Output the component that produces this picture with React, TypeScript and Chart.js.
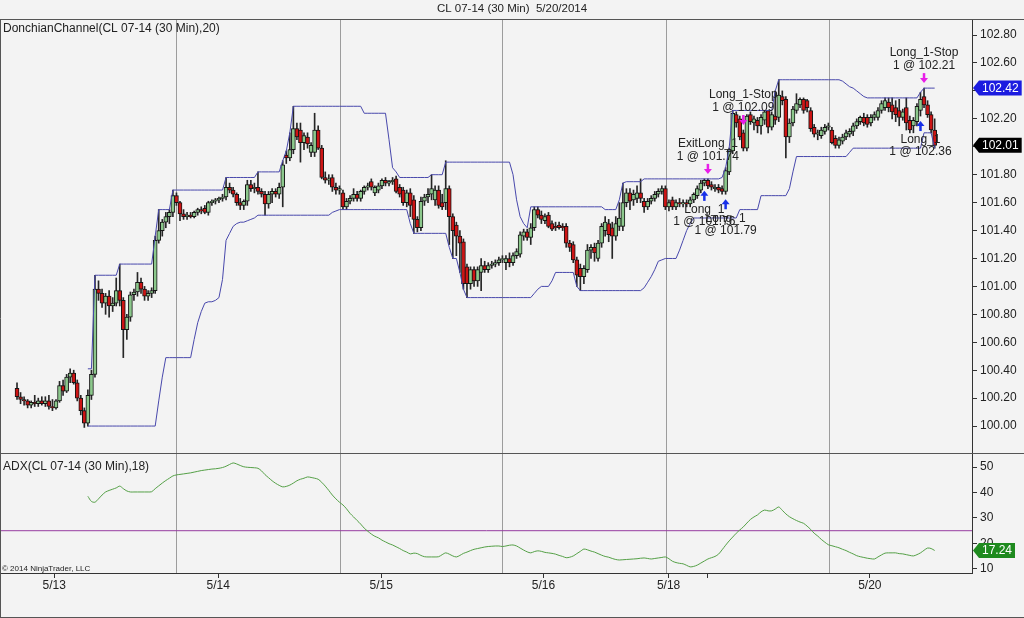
import React, { useEffect, useRef } from "react";
import { Chart, registerables } from "chart.js";

Chart.register(...registerables);

const FONT = '"Liberation Sans", Arial, Helvetica, sans-serif';

const chartTitle = "CL 07-14 (30 Min)  5/20/2014";
const priceTitle = "DonchianChannel(CL 07-14 (30 Min),20)";
const adxTitle = "ADX(CL 07-14 (30 Min),18)";
const copyright = "\u00A9 2014 NinjaTrader, LLC";

// ---- 30-minute bars (index 0..259) ----
const opens = [
  100.27, 100.21, 100.19, 100.18, 100.15, 100.17, 100.16, 100.18, 100.16, 100.18,
  100.14, 100.13, 100.18, 100.29, 100.25, 100.35, 100.38, 100.31, 100.2, 100.11,
  100.02, 100.22, 100.37, 100.98, 100.95, 100.88, 100.93, 100.86, 100.88, 100.97,
  100.9, 100.69, 100.78, 100.94, 100.96, 101.03, 100.98, 100.93, 100.95, 100.97,
  101.33, 101.4, 101.46, 101.5, 101.53, 101.65, 101.6, 101.52, 101.5, 101.51,
  101.5, 101.53, 101.55, 101.56, 101.53, 101.6, 101.61, 101.62, 101.63, 101.64,
  101.71, 101.69, 101.66, 101.6, 101.58, 101.61, 101.73, 101.7, 101.71, 101.68,
  101.66, 101.59, 101.66, 101.68, 101.66, 101.71, 101.94, 101.92, 101.98, 102.13,
  102.12, 102.03, 102.07, 101.96, 101.96, 102.12, 101.99, 101.78, 101.76, 101.78,
  101.71, 101.69, 101.67, 101.57, 101.61, 101.63, 101.66, 101.63, 101.68, 101.71,
  101.75, 101.67, 101.69, 101.72, 101.76, 101.74, 101.75, 101.77, 101.71, 101.69,
  101.6, 101.67, 101.62, 101.48, 101.42, 101.61, 101.64, 101.66, 101.62, 101.69,
  101.6, 101.6, 101.7, 101.5, 101.44, 101.36, 101.32, 101.14, 101.02, 101.12,
  101.04, 101.1, 101.15, 101.12, 101.15, 101.16, 101.17, 101.19, 101.17, 101.2,
  101.17, 101.22, 101.23, 101.36, 101.39, 101.35, 101.42, 101.55, 101.51, 101.47,
  101.51, 101.45, 101.43, 101.44, 101.43, 101.43, 101.31, 101.3, 101.19, 101.13,
  101.07, 101.12, 101.26, 101.28, 101.2, 101.31, 101.4, 101.45, 101.42, 101.36,
  101.43, 101.43, 101.6, 101.67, 101.62, 101.63, 101.67, 101.61, 101.57, 101.61,
  101.63, 101.66, 101.68, 101.7, 101.57, 101.62, 101.57, 101.6, 101.59, 101.6,
  101.59, 101.62, 101.65, 101.69, 101.74, 101.76, 101.73, 101.7, 101.71, 101.7,
  101.68, 101.82, 101.97, 102.23, 102.2, 102.1, 101.99, 102.23, 102.17, 102.19,
  102.15, 102.19, 102.26, 102.14, 102.22, 102.21, 102.36, 102.34, 102.07, 102.17,
  102.26, 102.3, 102.34, 102.33, 102.26, 102.14, 102.09, 102.08, 102.11, 102.14,
  102.12, 102.06, 102.01, 102.04, 102.07, 102.09, 102.11, 102.15, 102.18, 102.21,
  102.21, 102.17, 102.21, 102.21, 102.26, 102.28, 102.32, 102.3, 102.28, 102.26,
  102.21, 102.28, 102.19, 102.15, 102.18, 102.26, 102.36, 102.3, 102.23, 102.12,
];
const highs = [
  100.31, 100.24, 100.21, 100.19, 100.18, 100.22, 100.2, 100.21, 100.21, 100.22,
  100.19, 100.19, 100.32, 100.33, 100.37, 100.41, 100.4, 100.33, 100.22, 100.13,
  100.26, 100.4, 101.08, 101.04, 100.98, 100.95, 100.97, 100.92, 101.06, 101.16,
  100.92, 100.8, 100.96, 100.98, 101.1, 101.06, 101.0, 100.97, 100.99, 101.36,
  101.55, 101.48, 101.53, 101.55, 101.69, 101.67, 101.61, 101.55, 101.53, 101.53,
  101.54, 101.56, 101.57, 101.58, 101.61, 101.62, 101.63, 101.64, 101.66, 101.78,
  101.74, 101.71, 101.67, 101.63, 101.62, 101.76, 101.76, 101.74, 101.82, 101.7,
  101.68, 101.68, 101.7, 101.7, 101.74, 101.9, 101.97, 102.1, 102.29, 102.17,
  102.17, 102.1, 102.1, 102.03, 102.24, 102.15, 102.01, 101.82, 101.8, 101.8,
  101.74, 101.72, 101.69, 101.63, 101.65, 101.7, 101.68, 101.69, 101.72, 101.74,
  101.77, 101.72, 101.74, 101.77, 101.78, 101.76, 101.78, 101.79, 101.73, 101.71,
  101.69, 101.7, 101.65, 101.5, 101.64, 101.66, 101.7, 101.8, 101.72, 101.72,
  101.66, 101.9, 101.72, 101.52, 101.46, 101.4, 101.34, 101.16, 101.14, 101.14,
  101.14, 101.2, 101.18, 101.17, 101.18, 101.19, 101.21, 101.22, 101.22, 101.24,
  101.24, 101.27, 101.39, 101.41, 101.41, 101.45, 101.57, 101.57, 101.54, 101.52,
  101.53, 101.47, 101.46, 101.46, 101.45, 101.45, 101.33, 101.32, 101.21, 101.16,
  101.15, 101.3, 101.3, 101.31, 101.33, 101.45, 101.5, 101.48, 101.46, 101.5,
  101.6, 101.74, 101.7, 101.7, 101.69, 101.72, 101.77, 101.63, 101.63, 101.65,
  101.68, 101.7, 101.72, 101.72, 101.62, 101.64, 101.62, 101.63, 101.62, 101.62,
  101.64, 101.67, 101.72, 101.76, 101.77, 101.77, 101.75, 101.73, 101.73, 101.72,
  101.85, 101.99, 102.26, 102.25, 102.22, 102.12, 102.23, 102.25, 102.22, 102.21,
  102.23, 102.26, 102.26, 102.25, 102.4, 102.48, 102.4, 102.36, 102.2, 102.29,
  102.38, 102.35, 102.35, 102.34, 102.28, 102.16, 102.12, 102.14, 102.16, 102.17,
  102.14, 102.08, 102.07, 102.09, 102.12, 102.13, 102.17, 102.2, 102.22, 102.24,
  102.23, 102.23, 102.25, 102.28, 102.33, 102.35, 102.35, 102.35, 102.33, 102.34,
  102.27, 102.35, 102.22, 102.21, 102.31, 102.39, 102.42, 102.33, 102.25, 102.2,
];
const lows = [
  100.19, 100.16, 100.15, 100.13, 100.13, 100.14, 100.14, 100.15, 100.14, 100.12,
  100.11, 100.12, 100.17, 100.22, 100.24, 100.31, 100.3, 100.18, 100.08, 99.99,
  100.0, 100.19, 100.35, 100.9, 100.85, 100.8, 100.78, 100.82, 100.86, 100.86,
  100.49, 100.62, 100.75, 100.9, 100.93, 100.95, 100.9, 100.9, 100.92, 100.95,
  101.31, 101.36, 101.42, 101.45, 101.5, 101.58, 101.47, 101.48, 101.48, 101.49,
  101.49, 101.51, 101.52, 101.52, 101.51, 101.58, 101.59, 101.6, 101.61, 101.62,
  101.67, 101.64, 101.58, 101.55, 101.55, 101.58, 101.68, 101.67, 101.66, 101.64,
  101.51, 101.56, 101.6, 101.64, 101.63, 101.57, 101.88, 101.9, 101.95, 102.05,
  101.89, 101.98, 101.99, 101.93, 101.93, 101.98, 101.77, 101.74, 101.73, 101.68,
  101.66, 101.66, 101.55, 101.55, 101.59, 101.61, 101.61, 101.61, 101.66, 101.69,
  101.69, 101.65, 101.67, 101.7, 101.72, 101.72, 101.73, 101.67, 101.64, 101.58,
  101.57, 101.5, 101.38, 101.39, 101.4, 101.58, 101.6, 101.62, 101.58, 101.56,
  101.55, 101.55, 101.3, 101.2, 101.22, 101.1, 100.98, 100.92, 100.98, 101.0,
  101.0, 100.97, 101.1, 101.1, 101.13, 101.14, 101.15, 101.17, 101.12, 101.14,
  101.15, 101.2, 101.21, 101.33, 101.33, 101.3, 101.4, 101.49, 101.45, 101.45,
  101.42, 101.4, 101.4, 101.41, 101.4, 101.28, 101.25, 101.17, 101.0, 100.97,
  101.02, 101.1, 101.2, 101.18, 101.18, 101.28, 101.36, 101.32, 101.2, 101.33,
  101.4, 101.4, 101.57, 101.55, 101.58, 101.6, 101.6, 101.53, 101.55, 101.59,
  101.61, 101.64, 101.66, 101.55, 101.54, 101.55, 101.55, 101.57, 101.57, 101.57,
  101.57, 101.6, 101.63, 101.67, 101.72, 101.7, 101.69, 101.68, 101.67, 101.66,
  101.66, 101.8, 101.95, 102.14, 102.05, 101.97, 101.97, 102.16, 102.12, 102.1,
  102.09, 102.16, 102.1, 102.12, 102.16, 102.18, 102.3, 101.92, 102.03, 102.15,
  102.24, 102.28, 102.24, 102.25, 102.11, 102.07, 102.05, 102.06, 102.09, 102.12,
  102.02, 101.99, 101.99, 102.02, 102.05, 102.07, 102.08, 102.13, 102.16, 102.15,
  102.14, 102.15, 102.19, 102.19, 102.24, 102.26, 102.25, 102.2, 102.18, 102.15,
  102.19, 102.12, 102.1, 102.1, 102.15, 102.22, 102.28, 102.21, 102.1, 101.99,
];
const closes = [
  100.21, 100.19, 100.18, 100.15, 100.17, 100.16, 100.18, 100.16, 100.18, 100.14,
  100.13, 100.18, 100.29, 100.25, 100.35, 100.38, 100.31, 100.2, 100.11, 100.02,
  100.22, 100.37, 100.98, 100.95, 100.88, 100.93, 100.86, 100.88, 100.97, 100.9,
  100.69, 100.78, 100.94, 100.96, 101.03, 100.98, 100.93, 100.95, 100.97, 101.33,
  101.4, 101.46, 101.5, 101.53, 101.65, 101.6, 101.52, 101.5, 101.51, 101.5,
  101.53, 101.55, 101.54, 101.53, 101.6, 101.61, 101.62, 101.63, 101.64, 101.71,
  101.69, 101.66, 101.6, 101.58, 101.61, 101.73, 101.7, 101.71, 101.68, 101.66,
  101.59, 101.66, 101.68, 101.66, 101.71, 101.87, 101.92, 101.98, 102.13, 102.07,
  102.03, 102.08, 102.02, 102.01, 102.12, 101.99, 101.78, 101.76, 101.77, 101.71,
  101.69, 101.7, 101.57, 101.61, 101.63, 101.66, 101.63, 101.68, 101.71, 101.72,
  101.71, 101.71, 101.72, 101.76, 101.74, 101.75, 101.76, 101.68, 101.66, 101.6,
  101.67, 101.58, 101.48, 101.42, 101.61, 101.64, 101.66, 101.7, 101.69, 101.58,
  101.57, 101.7, 101.5, 101.4, 101.36, 101.31, 101.02, 101.02, 101.12, 101.04,
  101.12, 101.15, 101.12, 101.15, 101.16, 101.17, 101.19, 101.2, 101.2, 101.17,
  101.22, 101.25, 101.37, 101.39, 101.35, 101.42, 101.55, 101.51, 101.48, 101.5,
  101.43, 101.41, 101.42, 101.42, 101.42, 101.31, 101.28, 101.19, 101.08, 101.07,
  101.13, 101.26, 101.28, 101.24, 101.31, 101.43, 101.46, 101.37, 101.36, 101.45,
  101.49, 101.6, 101.67, 101.61, 101.66, 101.67, 101.63, 101.57, 101.61, 101.63,
  101.66, 101.68, 101.7, 101.57, 101.6, 101.57, 101.6, 101.59, 101.6, 101.59,
  101.62, 101.66, 101.7, 101.74, 101.76, 101.72, 101.71, 101.71, 101.69, 101.68,
  101.83, 101.98, 102.24, 102.17, 102.07, 101.99, 102.22, 102.18, 102.2, 102.15,
  102.21, 102.25, 102.14, 102.23, 102.19, 102.37, 102.33, 102.07, 102.17, 102.27,
  102.31, 102.34, 102.26, 102.28, 102.13, 102.09, 102.1, 102.12, 102.14, 102.15,
  102.03, 102.01, 102.05, 102.07, 102.1, 102.11, 102.15, 102.18, 102.21, 102.17,
  102.16, 102.21, 102.23, 102.26, 102.31, 102.33, 102.28, 102.25, 102.23, 102.21,
  102.25, 102.17, 102.12, 102.19, 102.29, 102.34, 102.3, 102.23, 102.12, 102.01,
];

// ---- Donchian channel (20), plotted from bar 20 ----
const donchianStart = 20;
const upperBand = [
  100.41, 100.41,
  101.08, 101.08, 101.08, 101.08, 101.08, 101.08, 101.08,
  101.16, 101.16, 101.16, 101.16, 101.16, 101.16, 101.16, 101.16, 101.16, 101.16,
  101.36, 101.55, 101.55, 101.55, 101.55,
  101.69, 101.69, 101.69, 101.69, 101.69, 101.69, 101.69, 101.69, 101.69, 101.69, 101.69, 101.69, 101.69, 101.69, 101.69,
  101.78, 101.78, 101.78, 101.78, 101.78, 101.78, 101.78, 101.78, 101.78,
  101.82, 101.82, 101.82, 101.82, 101.82, 101.82, 101.82,
  101.9, 101.97, 102.1,
  102.29, 102.29, 102.29, 102.29, 102.29, 102.29, 102.29, 102.29, 102.29, 102.29,
  102.29, 102.29, 102.29, 102.29, 102.29, 102.29, 102.29, 102.29, 102.29, 102.29,
  102.24, 102.24, 102.24, 102.24, 102.24, 102.24, 102.24,
  102.05, 101.85, 101.82,
  101.78, 101.78, 101.78, 101.78, 101.78, 101.78, 101.78, 101.78, 101.78,
  101.8, 101.8, 101.8, 101.8,
  101.89, 101.89, 101.89, 101.89, 101.89, 101.89, 101.89, 101.89, 101.89, 101.89,
  101.89, 101.89, 101.89, 101.89, 101.89, 101.89, 101.89, 101.89, 101.89,
  101.8, 101.62, 101.5, 101.45, 101.42,
  101.57, 101.57, 101.57, 101.57, 101.57, 101.57, 101.57, 101.57, 101.57, 101.57, 101.57,
  101.57, 101.57, 101.57, 101.57, 101.57, 101.57, 101.57, 101.57, 101.57, 101.57,
  101.55, 101.55, 101.55, 101.55,
  101.62, 101.74,
  101.75, 101.75, 101.75, 101.75, 101.75,
  101.77, 101.77, 101.77, 101.77, 101.77, 101.77, 101.77, 101.77, 101.77, 101.77, 101.77,
  101.77, 101.77, 101.77, 101.77, 101.77, 101.77, 101.77, 101.77, 101.77, 101.77, 101.77,
  101.78, 101.85, 101.99,
  102.26, 102.26, 102.26, 102.26, 102.26, 102.26, 102.26, 102.26, 102.26, 102.26, 102.26, 102.26,
  102.4,
  102.48, 102.48, 102.48, 102.48, 102.48, 102.48, 102.48, 102.48, 102.48,
  102.48, 102.48, 102.48, 102.48, 102.48, 102.48, 102.48, 102.48, 102.48,
  102.47, 102.45, 102.43, 102.42, 102.4, 102.38, 102.36,
  102.35, 102.35, 102.35, 102.35, 102.35, 102.35, 102.35, 102.35, 102.35, 102.35,
  102.35, 102.35, 102.35, 102.35, 102.35,
  102.39, 102.42, 102.42, 102.42, 102.42,
];
const lowerBand = [
  100.0, 100.0, 100.0, 100.0, 100.0, 100.0, 100.0, 100.0, 100.0, 100.0,
  100.0, 100.0, 100.0, 100.0, 100.0, 100.0, 100.0, 100.0, 100.0, 100.0,
  100.18, 100.35,
  100.49, 100.49, 100.49, 100.49, 100.49, 100.49, 100.49, 100.49,
  100.62, 100.74, 100.82, 100.88, 100.89, 100.89, 100.9, 100.92, 101.05,
  101.33, 101.38, 101.43, 101.45, 101.46, 101.46, 101.47, 101.48, 101.49,
  101.51, 101.51, 101.51, 101.51, 101.51, 101.51, 101.51, 101.51, 101.51, 101.51, 101.51,
  101.51, 101.51, 101.51, 101.51, 101.51, 101.51, 101.51, 101.51, 101.51, 101.51,
  101.53, 101.54,
  101.55, 101.55, 101.55, 101.55, 101.55, 101.55, 101.55, 101.55, 101.55, 101.55,
  101.55, 101.55, 101.55, 101.55, 101.55, 101.55, 101.55, 101.55, 101.55, 101.55,
  101.45,
  101.38, 101.38, 101.38, 101.38, 101.38, 101.38, 101.38, 101.38, 101.38, 101.38,
  101.28, 101.2, 101.2, 101.1, 100.98,
  100.92, 100.92, 100.92, 100.92, 100.92, 100.92, 100.92, 100.92, 100.92, 100.92,
  100.92, 100.92, 100.92, 100.92, 100.92, 100.92, 100.92, 100.92, 100.92,
  100.95, 100.98, 101.0, 101.0, 101.0, 101.04,
  101.1, 101.1, 101.1, 101.1, 101.1, 101.1,
  101.0,
  100.97, 100.97, 100.97, 100.97, 100.97, 100.97, 100.97, 100.97, 100.97,
  100.97, 100.97, 100.97, 100.97, 100.97, 100.97, 100.97, 100.97, 100.97,
  100.99, 101.03, 101.07, 101.12, 101.18, 101.19,
  101.2, 101.2, 101.2, 101.2,
  101.26, 101.33, 101.4, 101.45,
  101.49, 101.49, 101.49, 101.49, 101.49, 101.49, 101.49, 101.49, 101.49, 101.49, 101.49, 101.49, 101.49,
  101.55, 101.55, 101.55, 101.55, 101.55, 101.55,
  101.65, 101.65, 101.65, 101.65, 101.65, 101.65, 101.65, 101.65,
  101.7, 101.82,
  101.93, 101.93, 101.93, 101.93, 101.93, 101.93, 101.93, 101.93, 101.93, 101.93,
  101.93, 101.93, 101.93, 101.93, 101.93,
  101.96,
  101.99, 101.99, 101.99, 101.99, 101.99, 101.99, 101.99, 101.99, 101.99, 101.99,
  101.99, 101.99, 101.99, 101.99, 101.99, 101.99, 101.99, 101.99, 101.99, 101.99,
  102.1, 102.1, 102.1, 101.99,
];

// ---- ADX (18), plotted from bar 20 ----
const adxStart = 20;
const adxValues = [
  38.5, 36.5, 36.2, 37.5, 39.0, 40.2, 40.8, 41.3, 41.8, 42.5,
  41.5, 40.6, 40.2, 40.2, 40.2, 40.2, 40.2, 40.2, 40.3, 41.5,
  42.6, 43.7, 44.7, 45.6, 46.5, 46.9, 47.1, 47.3, 47.5, 47.7,
  48.0, 48.3, 48.6, 48.8, 49.0, 49.2, 49.3, 49.5, 49.8, 50.3,
  51.0, 51.6, 51.2, 50.6, 50.1, 49.9, 49.8, 49.7, 49.5, 48.5,
  47.0, 45.8, 44.6, 43.6, 42.8, 42.2, 42.4, 42.9, 43.7, 44.6,
  45.2, 45.6, 46.1, 45.9, 45.6, 45.2, 44.0, 42.5, 40.8, 39.0,
  37.5, 36.2, 35.1, 33.6, 31.8, 30.4, 29.0, 27.6, 26.0, 24.8,
  23.7, 22.8, 22.2, 21.3, 20.6, 19.9, 19.4, 18.7, 18.0, 17.2,
  16.6, 15.9, 16.2, 16.0, 15.3, 14.8, 14.7, 14.7, 14.7, 14.8,
  15.6, 16.3, 15.8, 15.1, 14.7, 15.3, 16.1, 16.6, 17.2, 17.7,
  18.0, 18.3, 18.6, 18.8, 18.9, 19.0, 19.0, 18.8, 19.0, 19.3,
  19.4, 19.0, 18.2, 17.4, 16.7, 16.3, 16.8, 17.1, 16.9, 16.5,
  16.3, 16.1, 15.8, 15.3, 14.9, 14.4, 14.6, 15.1, 16.0, 16.9,
  17.8, 17.5, 17.0, 16.6, 16.0, 15.4, 14.9, 14.6, 14.1, 13.7,
  13.5, 13.6, 13.7, 13.8, 13.9, 14.0, 14.2, 14.3, 14.1, 13.9,
  14.1, 14.3, 14.5, 14.7, 14.0, 13.0, 12.5, 12.2, 12.0, 11.4,
  10.8, 11.0, 11.5, 12.3, 13.1, 13.9, 14.4, 14.9, 15.8, 17.5,
  19.3, 21.0, 22.5, 24.0, 25.3, 26.5, 28.0, 29.4, 30.4, 31.2,
  32.4, 33.1, 32.8, 32.8, 33.5, 34.3, 33.0, 31.6, 30.5, 29.7,
  29.0, 28.4, 27.9, 26.8, 25.5, 24.0, 22.9, 21.6, 20.5, 19.5,
  19.1, 18.7, 18.3, 17.7, 17.2, 16.5, 15.9, 15.2, 14.8, 14.5,
  14.2, 14.0, 13.9, 14.7, 15.5, 16.2, 16.3, 16.3, 16.3, 16.0,
  15.9, 15.6, 15.3, 15.1, 15.6, 16.3, 17.3, 18.2, 18.0, 17.24,
];
const adxLevel = 25;

// ---- axes ----
const priceTicks = [100.0, 100.2, 100.4, 100.6, 100.8, 101.0, 101.2, 101.4, 101.6, 101.8, 102.0, 102.2, 102.4, 102.6, 102.8];
const adxTicks = [10, 20, 30, 40, 50];
const dateTickBars = [10.5, 56.8, 102.8, 148.6, 183.9, 194.9, 240.7];
const dateTickLabels = ["5/13", "5/14", "5/15", "5/16", "5/18", "", "5/20"];
const sessionBreakBars = [44.9, 91.2, 137.0, 183.05, 229.1];

// ---- trade executions ----
const tradeMarks = [
  { bar: 194, side: "entry", lines: ["Long_1", "1 @ 101.76"] },
  { bar: 200, side: "entry", lines: ["Long_1", "1 @ 101.79"] },
  { bar: 195, side: "exit", lines: ["ExitLong_1", "1 @ 101.74"] },
  { bar: 205, side: "exit", lines: ["Long_1-Stop", "1 @ 102.09"] },
  { bar: 255, side: "entry", lines: ["Long_1", "1 @ 102.36"] },
  { bar: 256, side: "exit", lines: ["Long_1-Stop", "1 @ 102.21"] },
];

const X_MIN = -4.52;
const X_MAX = 269.54;
const Y_MIN = 99.807;
const Y_MAX = 102.915;
const ADX_MIN = 8.4;
const ADX_MAX = 55.5;

const BG = "#f3f3f3";
const GREEN = "rgb(140,200,140)";
const RED = "rgb(205,20,20)";
const CHANNEL = "rgb(72,72,172)";
const ADX_COLOR = "rgb(84,160,70)";
const LEVEL_COLOR = "rgb(150,60,160)";
const AXIS = "#333333";
const TEXT = "#222222";

function drawArrow(ctx: CanvasRenderingContext2D, x: number, tip: number, dir: number, color: string) {
  ctx.fillStyle = color;
  ctx.beginPath();
  ctx.moveTo(x, tip);
  ctx.lineTo(x - 4, tip + dir * 5);
  ctx.lineTo(x + 4, tip + dir * 5);
  ctx.closePath();
  ctx.fill();
  const a = tip + dir * 4;
  const b = tip + dir * 10;
  ctx.fillRect(x - 1.25, Math.min(a, b), 2.5, Math.abs(b - a));
}

function drawTag(ctx: CanvasRenderingContext2D, x0: number, y: number, text: string, bg: string) {
  ctx.font = `12px ${FONT}`;
  const w = ctx.measureText(text).width + 6;
  ctx.fillStyle = bg;
  ctx.beginPath();
  ctx.moveTo(x0, y);
  ctx.lineTo(x0 + 6, y - 7.5);
  ctx.lineTo(x0 + 6 + w, y - 7.5);
  ctx.lineTo(x0 + 6 + w, y + 7.5);
  ctx.lineTo(x0 + 6, y + 7.5);
  ctx.closePath();
  ctx.fill();
  ctx.fillStyle = "#ffffff";
  ctx.textAlign = "left";
  ctx.textBaseline = "middle";
  ctx.fillText(text, x0 + 9, y + 0.5);
}

const overlay = {
  id: "overlay",
  beforeDraw(chart: any) {
    const { ctx, width, height } = chart;
    ctx.save();
    ctx.fillStyle = BG;
    ctx.fillRect(0, 0, width, height);
    ctx.restore();
  },
  beforeDatasetsDraw(chart: any) {
    const { ctx, chartArea, scales } = chart;
    ctx.save();
    ctx.strokeStyle = "#9c9c9c";
    ctx.lineWidth = 1;
    sessionBreakBars.forEach((b) => {
      const x = Math.round(scales.x.getPixelForValue(b)) + 0.5;
      ctx.beginPath();
      ctx.moveTo(x, chartArea.top);
      ctx.lineTo(x, chartArea.bottom);
      ctx.stroke();
    });
    ctx.restore();
  },
  afterDraw(chart: any) {
    const { ctx, width, height, scales, chartArea } = chart;
    const ys = scales.y;
    const ya = scales.y2;
    const xs = scales.x;
    ctx.save();
    // frame
    ctx.strokeStyle = "#555555";
    ctx.lineWidth = 1;
    ctx.beginPath();
    ctx.moveTo(0, chartArea.top + 0.5);
    ctx.lineTo(width, chartArea.top + 0.5);
    const sep = Math.round(ys.bottom) + 0.5;
    ctx.moveTo(0, sep);
    ctx.lineTo(width, sep);
    ctx.moveTo(0, height - 0.5);
    ctx.lineTo(width, height - 0.5);
    ctx.moveTo(0.5, chartArea.top);
    ctx.lineTo(0.5, height);
    ctx.stroke();

    // texts
    ctx.fillStyle = TEXT;
    ctx.textBaseline = "middle";
    ctx.font = `11.5px ${FONT}`;
    ctx.textAlign = "center";
    ctx.fillText(chartTitle, width / 2, 9);
    ctx.font = `12px ${FONT}`;
    ctx.textAlign = "left";
    ctx.fillText(priceTitle, 3, ys.top + 10);
    ctx.fillText(adxTitle, 3, ya.top + 14);
    ctx.font = `8px ${FONT}`;
    ctx.fillText(copyright, 2, ya.bottom - 4);

    // trade markers
    tradeMarks.forEach((m) => {
      const x = xs.getPixelForValue(m.bar);
      ctx.font = `12px ${FONT}`;
      ctx.textAlign = "center";
      ctx.textBaseline = "middle";
      if (m.side === "exit") {
        const tip = ys.getPixelForValue(highs[m.bar]) - 5;
        drawArrow(ctx, x, tip, -1, "#e81ee8");
        ctx.fillStyle = TEXT;
        ctx.fillText(m.lines[1], x, tip - 17);
        ctx.fillText(m.lines[0], x, tip - 30);
      } else {
        const tip = ys.getPixelForValue(lows[m.bar]) + 5;
        drawArrow(ctx, x, tip, 1, "#1830e8");
        ctx.fillStyle = TEXT;
        ctx.fillText(m.lines[0], x, tip + 19);
        ctx.fillText(m.lines[1], x, tip + 31);
      }
    });

    // value tags
    const tagX = chartArea.right + 1;
    drawTag(ctx, tagX, ys.getPixelForValue(upperBand[upperBand.length - 1]), upperBand[upperBand.length - 1].toFixed(2), "#1c1ce0");
    drawTag(ctx, tagX, ys.getPixelForValue(closes[closes.length - 1]), closes[closes.length - 1].toFixed(2), "#000000");
    drawTag(ctx, tagX, ya.getPixelForValue(adxValues[adxValues.length - 1]), adxValues[adxValues.length - 1].toFixed(2), "#1e8a1e");
    ctx.restore();
  },
};

export default function App() {
  const ref = useRef<HTMLCanvasElement | null>(null);

  useEffect(() => {
    if (!ref.current) return;
    const idx = opens.map((_, i) => i);
    const wickData = idx.map((i) => ({ x: i, y: [lows[i], highs[i]] }));
    const bodyData = idx.map((i) => ({ x: i, y: [opens[i], closes[i]] }));
    const bodyColors = idx.map((i) => (closes[i] >= opens[i] ? GREEN : RED));
    const upperData = upperBand.map((v, k) => ({ x: donchianStart + k, y: v }));
    const lowerData = lowerBand.map((v, k) => ({ x: donchianStart + k, y: v }));
    const adxData = adxValues.map((v, k) => ({ x: adxStart + k, y: v }));
    const levelData = [
      { x: X_MIN, y: adxLevel },
      { x: X_MAX, y: adxLevel },
    ];

    const tickFont = { family: FONT, size: 12 };

    const chart = new Chart(ref.current, {
      type: "bar",
      data: {
        datasets: [
          {
            type: "line",
            data: upperData,
            borderColor: CHANNEL,
            borderWidth: 1,
            pointRadius: 0,
            tension: 0,
            yAxisID: "y",
            order: 1,
          } as any,
          {
            type: "line",
            data: lowerData,
            borderColor: CHANNEL,
            borderWidth: 1,
            pointRadius: 0,
            tension: 0,
            yAxisID: "y",
            order: 1,
          } as any,
          {
            type: "bar",
            data: wickData,
            backgroundColor: "#262626",
            borderWidth: 0,
            barThickness: 1,
            grouped: false,
            yAxisID: "y",
            order: 3,
          } as any,
          {
            type: "bar",
            data: bodyData,
            backgroundColor: bodyColors,
            borderColor: "#151515",
            borderWidth: 1,
            borderSkipped: false,
            barThickness: 4,
            minBarLength: 1,
            grouped: false,
            yAxisID: "y",
            order: 2,
          } as any,
          {
            type: "line",
            data: levelData,
            borderColor: LEVEL_COLOR,
            borderWidth: 1,
            pointRadius: 0,
            yAxisID: "y2",
            order: 1,
          } as any,
          {
            type: "line",
            data: adxData,
            borderColor: ADX_COLOR,
            borderWidth: 1,
            pointRadius: 0,
            tension: 0.3,
            yAxisID: "y2",
            order: 0,
          } as any,
        ],
      },
      options: {
        responsive: false,
        animation: false,
        devicePixelRatio: 1,
        events: [],
        layout: { padding: { top: 19, left: 1, right: 0, bottom: 0 } },
        plugins: { legend: { display: false }, tooltip: { enabled: false }, title: { display: false } },
        scales: {
          x: {
            type: "linear",
            min: X_MIN,
            max: X_MAX,
            offset: false,
            grid: { display: true, drawOnChartArea: false, drawTicks: true, tickLength: 5, color: AXIS, offset: false },
            border: { display: true, color: AXIS },
            ticks: {
              autoSkip: false,
              maxRotation: 0,
              font: tickFont,
              color: TEXT,
              padding: 0,
              callback: (_v: any, i: number) => dateTickLabels[i],
            },
            afterBuildTicks: (s: any) => {
              s.ticks = dateTickBars.map((v) => ({ value: v }));
            },
            afterFit: (s: any) => {
              s.height = 45;
            },
          },
          y: {
            type: "linear",
            position: "right",
            stack: "panes",
            stackWeight: 434,
            min: Y_MIN,
            max: Y_MAX,
            grid: { display: true, drawOnChartArea: false, drawTicks: true, tickLength: 5, color: AXIS },
            border: { display: true, color: AXIS },
            ticks: {
              autoSkip: false,
              font: tickFont,
              color: TEXT,
              padding: 3,
              callback: (v: any) => Number(v).toFixed(2),
            },
            afterBuildTicks: (s: any) => {
              s.ticks = priceTicks.map((v) => ({ value: v }));
            },
            afterFit: (s: any) => {
              s.width = 52;
            },
          },
          y2: {
            type: "linear",
            position: "right",
            stack: "panes",
            stackWeight: 120,
            min: ADX_MIN,
            max: ADX_MAX,
            grid: { display: true, drawOnChartArea: false, drawTicks: true, tickLength: 5, color: AXIS },
            border: { display: true, color: AXIS },
            ticks: {
              autoSkip: false,
              font: tickFont,
              color: TEXT,
              padding: 3,
              callback: (v: any) => String(v),
            },
            afterBuildTicks: (s: any) => {
              s.ticks = adxTicks.map((v) => ({ value: v }));
            },
            afterFit: (s: any) => {
              s.width = 52;
            },
          },
        },
      } as any,
      plugins: [overlay],
    });
    return () => chart.destroy();
  }, []);

  return (
    <div style={{ position: "fixed", left: 0, top: 0, width: 1024, height: 618 }}>
      <canvas ref={ref} width={1024} height={618} style={{ display: "block", width: 1024, height: 618 }} />
    </div>
  );
}
